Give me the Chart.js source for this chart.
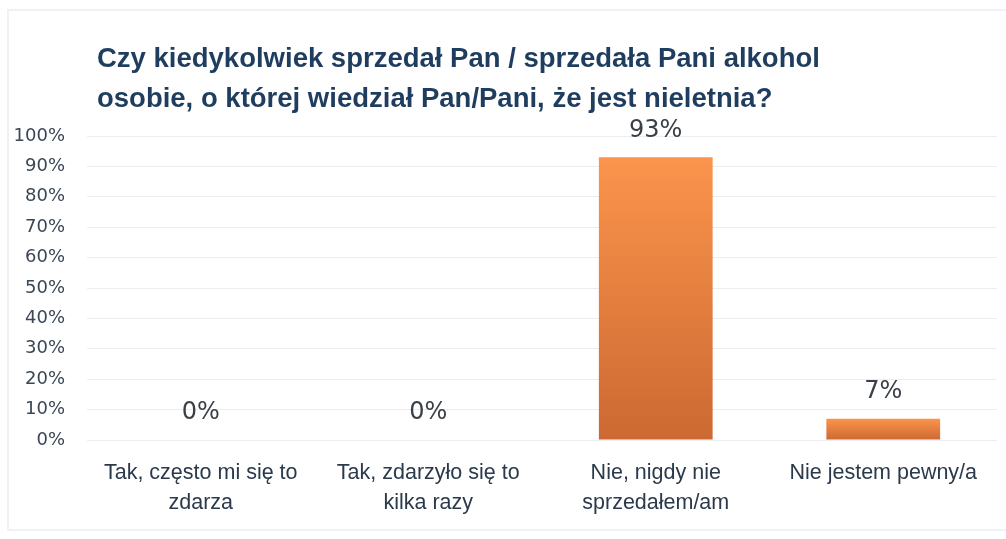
<!DOCTYPE html>
<html>
<head>
<meta charset="utf-8">
<script src="https://cdn.jsdelivr.net/npm/chart.js@4"></script>
<style>
  html, body { margin: 0; padding: 0; background: #fff; }
  #wrap { width: 1006px; height: 539px; }
</style>
</head>
<body>
<div id="wrap"><canvas id="bar-chart"></canvas></div>
<script>
// data
const categories = [
  ["Tak, często mi się to", "zdarza"],
  ["Tak, zdarzyło się to", "kilka razy"],
  ["Nie, nigdy nie", "sprzedałem/am"],
  ["Nie jestem pewny/a"]
];
const shares = [0, 0, 93, 7];
const yTicks = [0, 10, 20, 30, 40, 50, 60, 70, 80, 90, 100];
const titleLines = [
  "Czy kiedykolwiek sprzedał Pan / sprzedała Pani alkohol",
  "osobie, o której wiedział Pan/Pani, że jest nieletnia?"
];

// frame + title drawn on the canvas
const decor = {
  id: 'decor',
  beforeDraw(chart) {
    const ctx = chart.ctx;
    ctx.save();
    ctx.strokeStyle = '#edf2f6';
    ctx.lineWidth = 2;
    ctx.strokeRect(8, 10, 1010, 520);
    ctx.restore();
  },
  afterDraw(chart) {
    const ctx = chart.ctx;
    ctx.save();
    ctx.fillStyle = '#1f3d5e';
    ctx.font = 'bold 27.5px "Liberation Sans Narrow", "Liberation Sans", sans-serif';
    ctx.textBaseline = 'alphabetic';
    ctx.fillText(titleLines[0], 97, 67);
    ctx.fillText(titleLines[1], 97, 107);
    ctx.restore();
  }
};

// value labels above each bar
const valueLabels = {
  id: 'valueLabels',
  afterDatasetsDraw(chart) {
    const ctx = chart.ctx;
    const meta = chart.getDatasetMeta(0);
    ctx.save();
    ctx.fillStyle = '#3a4048';
    ctx.font = '24px "DejaVu Sans", sans-serif';
    ctx.textAlign = 'center';
    ctx.textBaseline = 'middle';
    meta.data.forEach((bar, i) => {
      ctx.fillText(shares[i] + '%', bar.x, bar.y - 27);
    });
    ctx.restore();
  }
};

function barGradient(context) {
  const chart = context.chart;
  const y = chart.scales.y;
  if (!y || context.raw === undefined) return '#ee8440';
  const top = y.getPixelForValue(context.raw);
  const base = y.getPixelForValue(0);
  if (!isFinite(top) || !isFinite(base) || top === base) return '#f79148';
  const g = chart.ctx.createLinearGradient(0, top, 0, base);
  g.addColorStop(0, '#fb944c');
  g.addColorStop(1, '#cc6932');
  return g;
}

new Chart(document.getElementById('bar-chart'), {
  type: 'bar',
  data: {
    labels: categories,
    datasets: [{
      data: shares,
      backgroundColor: barGradient,
      borderWidth: 0,
      barPercentage: 0.5,
      categoryPercentage: 1
    }]
  },
  options: {
    responsive: true,
    maintainAspectRatio: false,
    animation: false,
    layout: { padding: { top: 136, right: 9, left: 0, bottom: 0 } },
    plugins: {
      legend: { display: false },
      title: { display: false },
      tooltip: { enabled: false }
    },
    scales: {
      x: {
        grid: { display: false },
        border: { display: false },
        ticks: {
          color: '#2b3a4b',
          font: { family: '"Liberation Sans Narrow", "Liberation Sans", sans-serif', size: 21.5, lineHeight: 1.4 },
          padding: 10,
          maxRotation: 0,
          autoSkip: false
        },
        afterFit(scale) { scale.height = 99; }
      },
      y: {
        min: 0,
        max: 100,
        afterBuildTicks(scale) { scale.ticks = yTicks.map(v => ({ value: v })); },
        grid: { color: '#e9eef2', lineWidth: 1, drawTicks: false },
        border: { display: false },
        ticks: {
          color: '#3b4756',
          font: { family: '"DejaVu Sans", sans-serif', size: 18 },
          padding: 22,
          callback: v => v + '%'
        },
        afterFit(scale) { scale.width = 87; }
      }
    }
  },
  plugins: [decor, valueLabels]
});
</script>
</body>
</html>
